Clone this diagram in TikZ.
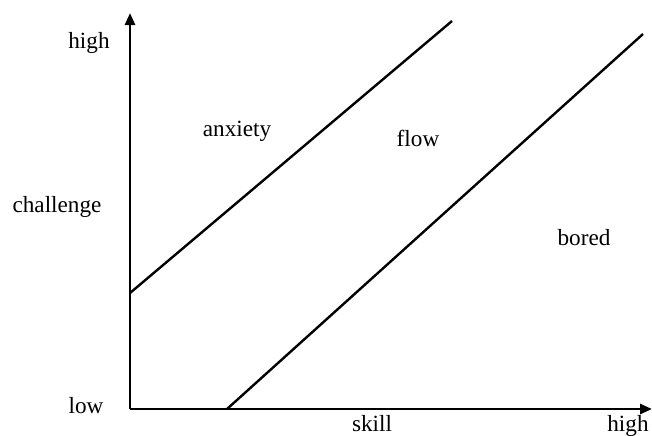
\documentclass[tikz,border=0pt]{standalone}
\usepackage{fontspec}
\setmainfont{Liberation Serif}
\usetikzlibrary{arrows.meta}
\begin{document}
\begin{tikzpicture}[x=0.5pt,y=-0.5pt,
  lbl/.style={font=\fontsize{11.6}{13}\selectfont, inner sep=0pt, anchor=base},
  ax/.style={line width=1.3pt, -{Triangle[length=6pt,width=5pt]}},
  bd/.style={line width=1.2pt}]
\useasboundingbox (0,0) rectangle (652,435);
\coordinate (O) at (130,409);
\coordinate (ytop) at (130,13);
\coordinate (xend) at (652,409);
\draw[ax] (O) -- (ytop);
\draw[ax] (O) -- (xend);
\coordinate (a1) at (130,293);
\coordinate (a2) at (452,21);
\coordinate (b1) at (227,409);
\coordinate (b2) at (643,34);
\draw[bd] (a1) -- (a2);
\draw[bd] (b1) -- (b2);
\node[lbl] (hy) at (89,48) {high};
\node[lbl] (ch) at (57,212) {challenge};
\node[lbl] (lo) at (86,413) {low};
\node[lbl] (sk) at (372,431) {skill};
\node[lbl] (hx) at (628,431) {high};
\node[lbl] (an) at (237,136) {anxiety};
\node[lbl] (fl) at (418,146) {flow};
\node[lbl] (bo) at (584,245) {bored};
\end{tikzpicture}
\end{document}
